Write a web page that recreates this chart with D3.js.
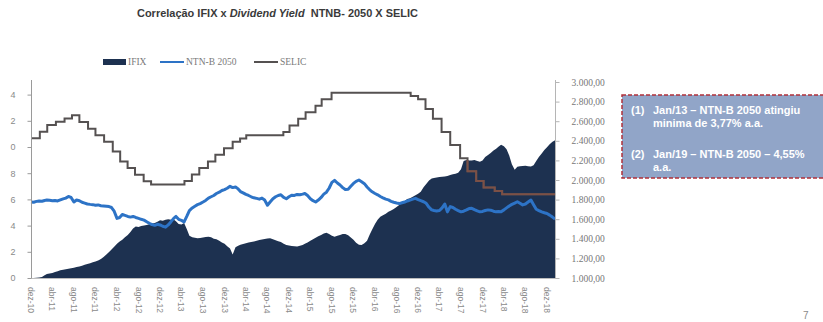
<!DOCTYPE html>
<html>
<head>
<meta charset="utf-8">
<script src="https://cdn.jsdelivr.net/npm/d3@7"></script>
<style>
body { margin: 0; background: #fff; }
</style>
</head>
<body>
<div id="chart"></div>
<script>
// IFIX (pontos), duas leituras por mes: dia 1 e dia 16, de dez/10 a jan/19
var ifix = [
  1000,1000,1002,1004,1010,1028,1040,1045,1052,1060,1070,1080,1085,1090,1095,1100,1105,1112,1118,1125,1135,1142,1150,1160,
  1168,1178,1195,1215,1240,1265,1290,1320,1350,1372,1390,1415,1438,1470,1505,1525,1520,1530,1535,1540,1548,1555,1562,1575,
  1590,1585,1595,1600,1594,1598,1580,1550,1545,1560,1500,1430,1415,1410,1405,1408,1412,1418,1422,1415,1400,1395,1380,1362,
  1350,1325,1300,1240,1315,1330,1340,1348,1355,1362,1368,1372,1380,1388,1392,1398,1402,1405,1395,1385,1375,1368,1350,1338,
  1332,1327,1325,1322,1330,1337,1350,1362,1380,1395,1410,1425,1440,1455,1462,1450,1430,1422,1430,1440,1448,1450,1435,1412,
  1390,1360,1340,1338,1355,1380,1440,1495,1550,1595,1625,1640,1655,1675,1690,1705,1725,1745,1765,1785,1805,1815,1830,1845,
  1860,1880,1925,1960,1995,2015,2020,2025,2030,2032,2035,2042,2050,2058,2065,2075,2110,2195,2205,2200,2198,2205,2195,2185,
  2200,2235,2255,2275,2300,2320,2340,2360,2345,2315,2250,2160,2105,2135,2140,2142,2145,2140,2138,2150,2195,2235,2270,2305,
  2335,2365,2390,2405
];

// NTN-B 2050 (% a.a.), mesmas datas
var ntnb = [
  5.80,5.78,5.85,5.88,5.86,5.92,5.95,5.93,5.90,5.92,5.88,5.96,6.04,6.10,6.22,6.15,5.80,5.95,5.90,5.78,5.72,5.65,5.62,5.60,
  5.56,5.58,5.52,5.50,5.48,5.45,5.38,5.10,4.55,4.62,4.85,4.78,4.70,4.65,4.70,4.62,4.55,4.48,4.42,4.30,4.18,4.08,4.02,4.10,
  4.05,3.95,3.88,4.05,4.30,4.55,4.70,4.48,4.40,4.28,4.70,5.15,5.35,5.48,5.60,5.68,5.80,5.92,6.10,6.20,6.30,6.45,6.55,6.68,
  6.75,6.85,7.00,6.90,6.95,6.80,6.60,6.50,6.38,6.30,6.20,6.12,6.08,6.02,6.10,5.95,5.55,5.80,6.05,6.20,6.30,6.35,6.15,6.05,
  6.20,6.32,6.30,6.38,6.35,6.40,6.45,6.30,6.05,5.90,5.80,5.95,6.15,6.40,6.55,6.85,7.30,7.45,7.25,7.10,6.90,6.75,6.78,7.00,
  7.22,7.38,7.48,7.35,7.20,6.95,6.75,6.58,6.45,6.35,6.22,6.12,6.02,5.96,5.85,5.78,5.72,5.68,5.74,5.80,5.88,5.95,6.02,6.08,
  5.98,5.90,5.82,5.70,5.40,5.20,5.15,5.12,5.15,5.35,5.65,5.05,5.45,5.38,5.25,5.15,5.05,5.10,5.20,5.30,5.32,5.22,5.12,5.05,
  5.08,5.15,5.20,5.18,5.10,5.05,5.08,5.06,5.20,5.35,5.50,5.62,5.72,5.82,5.70,5.58,5.65,5.80,5.95,5.60,5.25,5.15,5.05,4.98,
  4.92,4.80,4.65,4.50
];

// SELIC (% a.a.), datas de mudanca
var selicDates = ["2010-12-01","2011-01-20","2011-03-03","2011-04-21","2011-06-09","2011-07-21","2011-09-01","2011-10-20",
  "2011-12-01","2012-01-19","2012-03-08","2012-04-19","2012-05-31","2012-07-12","2012-08-30","2012-10-11","2013-04-18",
  "2013-05-30","2013-07-11","2013-08-29","2013-10-10","2013-11-28","2014-01-16","2014-02-27","2014-04-03","2014-10-30",
  "2014-12-04","2015-01-22","2015-03-05","2015-04-30","2015-06-04","2015-07-30","2016-10-20","2016-12-01","2017-01-12",
  "2017-02-23","2017-04-13","2017-06-01","2017-07-27","2017-09-07","2017-10-26","2017-12-07","2018-02-08","2018-03-22",
  "2019-01-16"];
var selicValues = [10.66,11.17,11.67,11.92,12.17,12.42,11.90,11.40,10.90,10.40,9.65,8.90,8.39,7.89,7.39,7.14,7.40,
  7.90,8.40,8.90,9.40,9.90,10.40,10.65,10.90,11.15,11.65,12.15,12.65,13.15,13.65,14.15,13.90,13.65,12.90,12.15,11.15,
  10.15,9.15,8.15,7.40,6.90,6.65,6.40,6.40];

var xTickDates = ["2010-12-01","2011-04-01","2011-08-01","2011-12-01","2012-04-01","2012-08-01","2012-12-01",
  "2013-04-01","2013-08-01","2013-12-01","2014-04-01","2014-08-01","2014-12-01","2015-04-01","2015-08-01",
  "2015-12-01","2016-04-01","2016-08-01","2016-12-01","2017-04-01","2017-08-01","2017-12-01","2018-04-01",
  "2018-08-01","2018-12-01"];
var xTickLabels = ["dez-10","abr-11","ago-11","dez-11","abr-12","ago-12","dez-12","abr-13","ago-13","dez-13",
  "abr-14","ago-14","dez-14","abr-15","ago-15","dez-15","abr-16","ago-16","dez-16","abr-17","ago-17","dez-17",
  "abr-18","ago-18","dez-18"];
var leftTicks = [0,2,4,6,8,10,12,14];
var leftLabels = ["0","2","4","6","8","0","2","4"];   // como aparece no recorte
var rightTicks = [1000,1200,1400,1600,1800,2000,2200,2400,2600,2800,3000];
var rightLabels = ["1.000,00","1.200,00","1.400,00","1.600,00","1.800,00","2.000,00","2.200,00","2.400,00",
  "2.600,00","2.800,00","3.000,00"];

var parse = d3.timeParse("%Y-%m-%d");

// datas da serie: dia 1 e dia 16 de cada mes
var months = d3.timeMonth.range(parse("2010-12-01"), parse("2019-02-01"));
var dates = [];
months.forEach(function(m) { dates.push(m); dates.push(d3.timeDay.offset(m, 15)); });

var ifixData = dates.map(function(d, i) { return {date: d, v: ifix[i]}; });
var ntnbData = dates.map(function(d, i) { return {date: d, v: ntnb[i]}; });
var selicData = selicDates.map(function(d, i) { return {date: parse(d), v: selicValues[i]}; });

var navy = "#1d3150", blue = "#2d73c6", grey = "#555151";

var svg = d3.select("#chart").append("svg")
  .attr("width", 823)
  .attr("height", 322)
  .style("font-family", "'Liberation Sans', Arial, sans-serif");

var x = d3.scaleTime()
  .domain([parse("2010-12-01"), parse("2018-12-01")])
  .range([31, 547]);
var yL = d3.scaleLinear().domain([0, 14]).range([278, 94.6]);
var yR = d3.scaleLinear().domain([1000, 3000]).range([278, 82]);

// titulo
var title = svg.append("text")
  .attr("x", 137).attr("y", 17)
  .attr("textLength", 281).attr("lengthAdjust", "spacingAndGlyphs")
  .style("font-size", "11px").style("font-weight", "bold").style("fill", "#3a3a3a");
title.append("tspan").text("Correlação IFIX x ");
title.append("tspan").style("font-style", "italic").text("Dividend Yield");
title.append("tspan").attr("xml:space", "preserve").text("  NTNB- 2050 X SELIC");

// legenda
var leg = svg.append("g").style("font-family", "'Liberation Serif', 'Times New Roman', serif")
  .style("font-size", "9.5px").style("fill", "#7a7a7a");
leg.append("rect").attr("x", 103).attr("y", 59).attr("width", 23).attr("height", 6).attr("fill", navy);
leg.append("text").attr("x", 128).attr("y", 65).text("IFIX");
leg.append("line").attr("x1", 160).attr("x2", 184).attr("y1", 62).attr("y2", 62).attr("stroke", blue).attr("stroke-width", 2);
leg.append("text").attr("x", 186).attr("y", 65).text("NTN-B 2050");
leg.append("line").attr("x1", 254).attr("x2", 278).attr("y1", 62).attr("y2", 62).attr("stroke", grey).attr("stroke-width", 2);
leg.append("text").attr("x", 280).attr("y", 65).text("SELIC");

// area IFIX
var area = d3.area()
  .x(function(d) { return x(d.date); })
  .y0(yR(1000))
  .y1(function(d) { return yR(d.v); });

svg.append("clipPath").attr("id", "areaClip")
  .append("path").attr("d", area(ifixData));

svg.append("path")
  .attr("d", area(ifixData))
  .attr("fill", navy);

// NTN-B 2050
svg.append("path")
  .datum(ntnbData)
  .attr("d", d3.line()
    .x(function(d) { return x(d.date); })
    .y(function(d) { return yL(d.v); }))
  .attr("fill", "none")
  .attr("stroke", blue)
  .attr("stroke-width", 3)
  .attr("stroke-linejoin", "round");

// SELIC (escada)
var selicLine = d3.line()
  .curve(d3.curveStepAfter)
  .x(function(d) { return x(d.date); })
  .y(function(d) { return yL(d.v); });

svg.append("path")
  .datum(selicData)
  .attr("d", selicLine)
  .attr("fill", "none")
  .attr("stroke", grey)
  .attr("stroke-width", 2);

// sobre a area a linha aparece marrom
svg.append("path")
  .datum(selicData)
  .attr("d", selicLine)
  .attr("clip-path", "url(#areaClip)")
  .attr("fill", "none")
  .attr("stroke", "#7c5046")
  .attr("stroke-width", 2);

// eixos
svg.append("line").attr("x1", 31).attr("x2", 556).attr("y1", 278.5).attr("y2", 278.5).attr("stroke", "#bdbdbd");
svg.append("line").attr("x1", 31.5).attr("x2", 31.5).attr("y1", 80).attr("y2", 278).attr("stroke", "#9a9a9a");
svg.append("line").attr("x1", 555.5).attr("x2", 555.5).attr("y1", 80).attr("y2", 278).attr("stroke", "#b5b5b5");

var axL = svg.append("g")
  .attr("transform", "translate(31.5,0)")
  .call(d3.axisLeft(yL).tickValues(leftTicks).tickSize(4).tickPadding(12)
    .tickFormat(function(d, i) { return leftLabels[i]; }));
axL.select(".domain").remove();
axL.selectAll("line").attr("stroke", "#9a9a9a");
axL.selectAll("text").style("font-size", "9px").style("fill", "#8a8a8a")
  .style("font-family", "'Liberation Sans', Arial, sans-serif");

var axR = svg.append("g")
  .attr("transform", "translate(555.5,0)")
  .call(d3.axisRight(yR).tickValues(rightTicks).tickSize(4).tickPadding(12)
    .tickFormat(function(d, i) { return rightLabels[i]; }));
axR.select(".domain").remove();
axR.selectAll("line").attr("stroke", "#b5b5b5");
axR.selectAll("text").style("font-size", "9.5px").style("fill", "#777")
  .style("font-family", "'Liberation Serif', 'Times New Roman', serif");

// rotulos do eixo x (girados)
svg.append("g").selectAll("text")
  .data(xTickDates)
  .enter().append("text")
  .attr("transform", function(d) { return "translate(" + x(parse(d)) + ",287) rotate(90)"; })
  .attr("dy", "0.35em")
  .style("font-size", "8.5px")
  .style("fill", "#8a8a8a")
  .text(function(d, i) { return xTickLabels[i]; });

// caixa de comentarios
var box = svg.append("g");
box.append("rect")
  .attr("x", 622).attr("y", 95).attr("width", 215).attr("height", 83)
  .attr("fill", "#91a5c8")
  .attr("stroke", "#b0303a").attr("stroke-width", 1.5).attr("stroke-dasharray", "4,2");
var notes = [
  ["(1)", "Jan/13 – NTN-B 2050 atingiu", 114],
  ["", "minima de 3,77% a.a.", 127],
  ["(2)", "Jan/19 – NTN-B 2050 – 4,55%", 158],
  ["", "a.a.", 171]
];
notes.forEach(function(n) {
  box.append("text").attr("x", 631).attr("y", n[2]).text(n[0]);
  box.append("text").attr("x", 653).attr("y", n[2]).text(n[1]);
});
box.selectAll("text").style("font-size", "11px").style("font-weight", "bold").style("fill", "#fff");

// numero da pagina
svg.append("text").attr("x", 803).attr("y", 319).style("font-size", "10px").style("fill", "#8a8a8a").text("7");
</script>
</body>
</html>
